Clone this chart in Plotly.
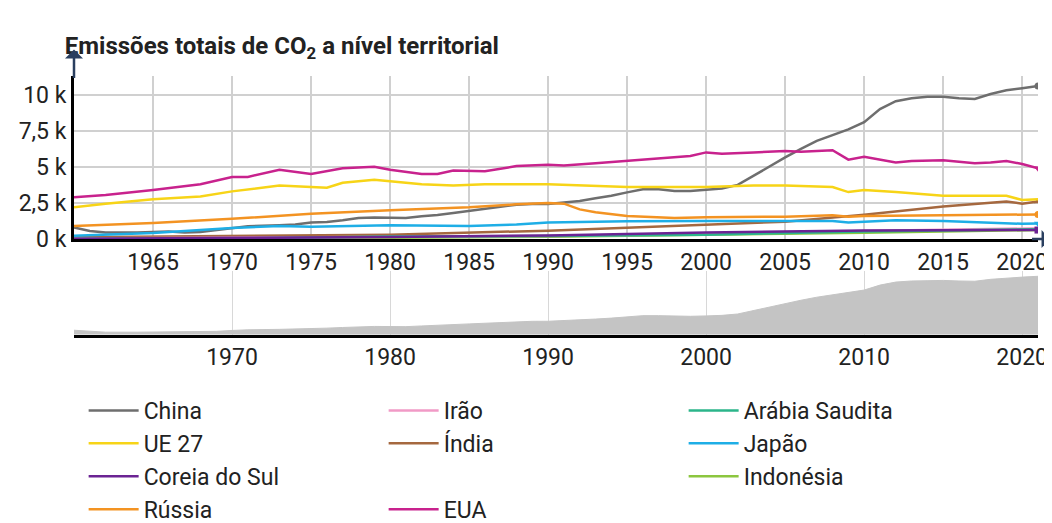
import plotly.graph_objects as go

# dados (Mt CO2)
china_anos = [1960,1961,1962,1964,1966,1967,1968,1969,1970,1971,1973,1974,1975,1976,1977,1978,1979,1980,1981,1982,1983,1984,1985,1986,1987,1988,1989,1990,1991,1992,1993,1994,1995,1996,1997,1998,1999,2000,2001,2002,2003,2004,2005,2006,2007,2008,2009,2010,2011,2012,2013,2014,2015,2016,2017,2018,2019,2020,2021]
china = [800,560,450,450,520,450,480,600,760,880,960,1000,1150,1180,1300,1460,1490,1470,1450,1580,1660,1800,1950,2070,2200,2380,2420,2430,2530,2640,2830,3000,3230,3450,3450,3330,3330,3400,3500,3750,4400,5050,5650,6250,6800,7200,7600,8100,9000,9550,9750,9850,9850,9750,9700,10050,10300,10450,10600]
eua_anos = [1960,1962,1965,1968,1970,1971,1973,1975,1977,1979,1980,1982,1983,1984,1986,1988,1990,1991,1993,1995,1997,1999,2000,2001,2003,2005,2006,2007,2008,2009,2010,2012,2013,2015,2017,2018,2019,2020,2021]
eua = [2900,3050,3400,3800,4300,4300,4800,4500,4900,5000,4800,4500,4500,4750,4700,5050,5150,5100,5250,5400,5600,5750,6000,5900,6000,6100,6050,6100,6150,5500,5700,5300,5400,5450,5250,5300,5400,5200,4900]
ue_anos = [1960,1962,1965,1968,1970,1973,1975,1976,1977,1979,1980,1982,1984,1986,1990,1992,1995,2000,2003,2005,2008,2009,2010,2012,2014,2015,2018,2019,2020,2021]
ue = [2200,2450,2750,2950,3300,3700,3600,3550,3900,4100,4000,3800,3700,3800,3800,3700,3600,3600,3700,3700,3600,3250,3400,3250,3050,3000,3000,3000,2700,2750]
russia_anos = [1960,1965,1970,1975,1980,1985,1988,1990,1991,1992,1993,1995,1998,2000,2005,2008,2009,2010,2015,2021]
russia = [900,1100,1400,1750,2000,2200,2400,2500,2450,2050,1850,1600,1450,1500,1550,1650,1550,1600,1650,1700]
japao_anos = [1960,1965,1970,1973,1975,1980,1985,1988,1990,1995,2000,2005,2008,2009,2012,2015,2020,2021]
japao = [230,420,770,900,850,950,900,1000,1150,1230,1250,1280,1250,1150,1300,1250,1050,1080]
india_anos = [1960,1970,1980,1990,2000,2005,2010,2015,2019,2020,2021]
india = [120,200,300,580,980,1200,1680,2250,2600,2450,2600]
coreia_anos = [1960,1970,1980,1990,2000,2010,2021]
coreia = [10,50,130,250,450,590,620]
irao_anos = [1960,1970,1980,1990,2000,2010,2021]
irao = [40,80,120,200,330,560,740]
arabia_anos = [1960,1970,1980,1990,2000,2010,2021]
arabia = [10,40,170,200,300,520,670]
indonesia_anos = [1960,1970,1980,1990,2000,2010,2021]
indonesia = [20,30,90,150,270,430,620]

# (nome, anos, valores, cor, marcador final, rank na legenda)
series = [
    ('China', china_anos, china, '#6e6e6e', 'circle', 1),
    ('Índia', india_anos, india, '#a5683f', 'triangle-up', 5),
    ('Indonésia', indonesia_anos, indonesia, '#8cc63f', None, 9),
    ('Irão', irao_anos, irao, '#f19ac6', None, 2),
    ('Japão', japao_anos, japao, '#1eaee6', 'triangle-down', 6),
    ('Rússia', russia_anos, russia, '#f39322', 'circle', 10),
    ('Arábia Saudita', arabia_anos, arabia, '#2bb58a', None, 3),
    ('Coreia do Sul', coreia_anos, coreia, '#6b2393', 'square', 7),
    ('EUA', eua_anos, eua, '#c8228d', 'triangle-down', 11),
    ('UE 27', ue_anos, ue, '#f7d417', None, 4),
]

FONT = 'Liberation Sans Narrow, Roboto, Arial'
fig = go.Figure()
for nome, anos, vals, cor, simb, rank in series:
    fig.add_trace(go.Scatter(x=anos, y=vals, name=nome, mode='lines', line=dict(color=cor, width=2.5),
                             legendrank=rank))
    if simb:
        fig.add_trace(go.Scatter(x=anos[-1:], y=vals[-1:], mode='markers', showlegend=False,
                                 marker=dict(symbol=simb, color=cor, size=7)))
# espaço vazio na legenda
fig.add_trace(go.Scatter(x=[None], y=[None], name=' ', mode='lines', line=dict(color='rgba(0,0,0,0)'),
                         legendrank=8, hoverinfo='skip'))

# painel inferior (visão geral)
fig.add_trace(go.Scatter(x=china_anos, y=china, xaxis='x2', yaxis='y2', mode='lines', fill='tozeroy',
                         line=dict(color='#c4c4c4', width=1), fillcolor='#c4c4c4', showlegend=False))

fig.update_layout(
    width=1052, height=523, margin=dict(l=66, r=22, t=0, b=0),
    plot_bgcolor='white', paper_bgcolor='white',
    font=dict(family=FONT, size=23, color='#222'),
    xaxis=dict(range=[1960, 2021], tickvals=list(range(1965, 2021, 5)), showgrid=True,
               gridcolor='#d0d0d0', gridwidth=2, showline=True, linecolor='black', linewidth=3,
               ticks='', zeroline=False, anchor='y'),
    yaxis=dict(domain=[0.5, 0.853], range=[0, 11300], tickvals=[0, 2500, 5000, 7500, 10000, 11300],
               ticktext=['0 k', '2,5 k', '5 k', '7,5 k', '10 k', ''], showgrid=True, gridcolor='#d0d0d0',
               gridwidth=2, showline=True, linecolor='black', linewidth=3, zeroline=False, ticks=''),
    xaxis2=dict(range=[1960, 2021], tickvals=list(range(1970, 2021, 10)), anchor='y2', showgrid=True,
                gridcolor='#d8d8d8', showline=True, linecolor='black', linewidth=3, ticks=''),
    yaxis2=dict(domain=[0.293, 0.43], range=[0, 11500], visible=False),
    legend=dict(orientation='h', x=0.01, y=0.175, xanchor='left', yanchor='top',
                entrywidth=235, traceorder='normal', font=dict(size=23), itemwidth=50),
    title=dict(text='<b>Emissões totais de CO<sub>2</sub> a nível territorial</b>', x=0.054, y=0.945,
               xanchor='left', font=dict(size=24, family=FONT)),
)
# setas dos eixos
fig.add_annotation(x=0, y=0.91, ax=0, ay=30, xref='paper', yref='paper',
                   showarrow=True, arrowhead=1, arrowwidth=2.5, arrowsize=1.2, text='')
fig.add_annotation(x=1.013, y=0.5, ax=-20, ay=0, xref='paper', yref='paper',
                   showarrow=True, arrowhead=1, arrowwidth=2.5, arrowsize=1.2, text='')
fig.write_html("out.html")
